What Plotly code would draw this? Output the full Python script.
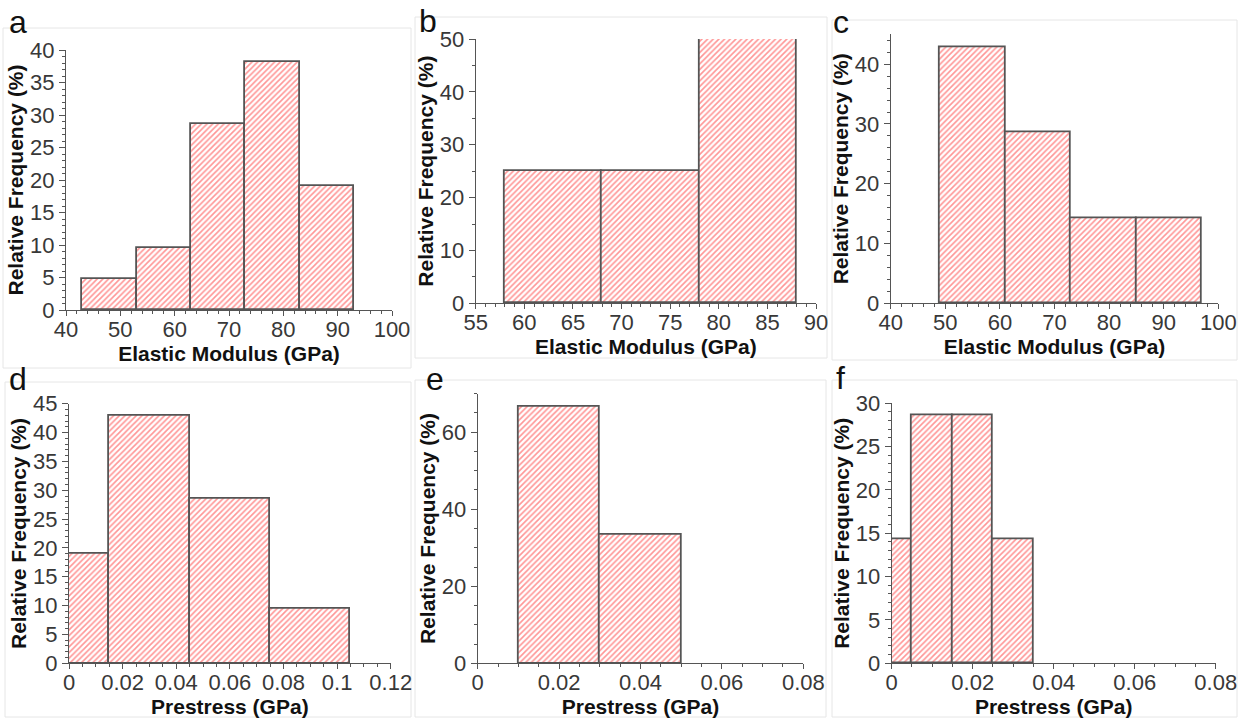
import numpy as np
import plotly.graph_objects as go

# ---- data (bin edges and relative frequencies, %) ----
a_edges = [43, 53, 63, 73, 83, 93]
a_freq = [4.76, 9.52, 28.57, 38.10, 19.05]

b_edges = [58, 68, 78, 88]
b_freq = [25.0, 25.0, 50.0]

c_edges = [49, 61, 73, 85, 97]
c_freq = [42.86, 28.57, 14.29, 14.29]

d_edges = [-0.015, 0.015, 0.045, 0.075, 0.105]
d_freq = [19.05, 42.86, 28.57, 9.52]

e_edges = [0.01, 0.03, 0.05]
e_freq = [66.67, 33.33]

f_edges = [-0.005, 0.005, 0.015, 0.025, 0.035]
f_freq = [14.29, 28.57, 28.57, 14.29]

a_xticks = [40, 50, 60, 70, 80, 90, 100]
a_yticks = [0, 5, 10, 15, 20, 25, 30, 35, 40]
b_xticks = [55, 60, 65, 70, 75, 80, 85, 90]
b_yticks = [0, 10, 20, 30, 40, 50]
c_xticks = [40, 50, 60, 70, 80, 90, 100]
c_yticks = [0, 10, 20, 30, 40]
d_xticks = [0, 0.02, 0.04, 0.06, 0.08, 0.1, 0.12]
d_yticks = [0, 5, 10, 15, 20, 25, 30, 35, 40, 45]
e_xticks = [0, 0.02, 0.04, 0.06, 0.08]
e_yticks = [0, 20, 40, 60]
f_xticks = [0, 0.02, 0.04, 0.06, 0.08]
f_yticks = [0, 5, 10, 15, 20, 25, 30]

labels = ["a", "b", "c", "d", "e", "f"]
xtitles = ["Elastic Modulus (GPa)"] * 3 + ["Prestress (GPa)"] * 3
ytitle = "Relative Frequency (%)"

W, H = 1239, 719
FONT = "Liberation Sans, Arial, sans-serif"

panels = [
    dict(edges=a_edges, freq=a_freq, xt=a_xticks, yt=a_yticks, xr=[40, 100], yr=[0, 40],
         xminor=2, yminor=1, box=(66, 392, 50, 310)),
    dict(edges=b_edges, freq=b_freq, xt=b_xticks, yt=b_yticks, xr=[55, 90], yr=[0, 50],
         xminor=1, yminor=5, box=(475.7, 816, 39, 303.3)),
    dict(edges=c_edges, freq=c_freq, xt=c_xticks, yt=c_yticks, xr=[40, 100], yr=[0, 45],
         xminor=2, yminor=2, box=(890.7, 1218.3, 34.3, 303.3)),
    dict(edges=d_edges, freq=d_freq, xt=d_xticks, yt=d_yticks, xr=[0, 0.12], yr=[0, 45],
         xminor=0.005, yminor=1, box=(69, 390.7, 403.7, 663.3)),
    dict(edges=e_edges, freq=e_freq, xt=e_xticks, yt=e_yticks, xr=[0, 0.08], yr=[0, 70],
         xminor=0.005, yminor=5, box=(477.7, 803.3, 393.7, 663.3)),
    dict(edges=f_edges, freq=f_freq, xt=f_xticks, yt=f_yticks, xr=[0, 0.08], yr=[0, 30],
         xminor=0.005, yminor=1, box=(891.7, 1215.7, 403.3, 663.3)),
]

fig = go.Figure()
layout = {}
AX = "#555555"
for i, p in enumerate(panels):
    n = "" if i == 0 else str(i + 1)
    edges = np.array(p["edges"], dtype=float)
    centers = (edges[:-1] + edges[1:]) / 2
    widths = np.diff(edges)
    fig.add_trace(go.Bar(
        x=centers, y=p["freq"], width=widths,
        xaxis="x" + n, yaxis="y" + n, showlegend=False,
        marker=dict(color="white",
                    line=dict(color="#555555", width=1.8),
                    pattern=dict(shape="/", fgcolor="#ff2e2e", bgcolor="white",
                                 size=4, solidity=0.4)),
    ))
    x0, x1, y0, y1 = p["box"]
    common = dict(showline=True, linecolor=AX, linewidth=1.3, ticks="outside",
                  ticklen=6, tickwidth=1.2, tickcolor=AX, showgrid=False, zeroline=False,
                  automargin=False,
                  tickfont=dict(family=FONT, size=22, color="#383838"))
    layout["xaxis" + n] = dict(
        common, domain=[x0 / W, x1 / W], range=p["xr"], anchor="y" + n,
        tickvals=p["xt"], ticklen=5, ticklabelstandoff=-6,
        minor=dict(dtick=p["xminor"], tick0=p["xr"][0], ticks="outside", ticklen=3,
                   tickcolor=AX, tickwidth=1),
        title=dict(text="<b>" + xtitles[i] + "</b>",
                   font=dict(family=FONT, size=21, color="#111111"), standoff=0),
    )
    layout["yaxis" + n] = dict(
        common, domain=[1 - y1 / H, 1 - y0 / H], range=p["yr"], anchor="x" + n,
        tickvals=p["yt"],
        minor=dict(dtick=p["yminor"], tick0=0, ticks="outside", ticklen=3,
                   tickcolor=AX, tickwidth=1),
        title=dict(text="<b>" + ytitle + "</b>",
                   font=dict(family=FONT, size=21, color="#111111"), standoff=0),
    )

# panel frames (light gray)
frames = [(3, 411, 28, 368), (415, 827, 17, 358), (832, 1237, 20, 360),
          (5, 411, 382, 717), (415, 826, 380, 717), (832, 1237, 380, 717)]
shapes = []
for (fx0, fx1, fy0, fy1) in frames:
    shapes.append(dict(type="rect", xref="paper", yref="paper",
                       x0=fx0 / W, x1=fx1 / W, y0=1 - fy1 / H, y1=1 - fy0 / H,
                       line=dict(color="#e6e6e6", width=1), fillcolor="rgba(0,0,0,0)",
                       layer="below"))

# panel letters
letter_pos = [(18, 22), (428, 21), (841, 22), (18, 379), (435, 379), (840, 378)]
annotations = []
for lab, (lx, ly) in zip(labels, letter_pos):
    annotations.append(dict(text=lab, xref="paper", yref="paper", x=lx / W, y=1 - ly / H,
                            xanchor="center", yanchor="middle", showarrow=False,
                            font=dict(family=FONT, size=32, color="#111111")))

fig.update_layout(
    width=W, height=H, margin=dict(l=0, r=0, t=0, b=0),
    paper_bgcolor="white", plot_bgcolor="white",
    bargap=0, shapes=shapes, annotations=annotations,
    font=dict(family=FONT), **layout,
)
fig.write_html("out.html")
